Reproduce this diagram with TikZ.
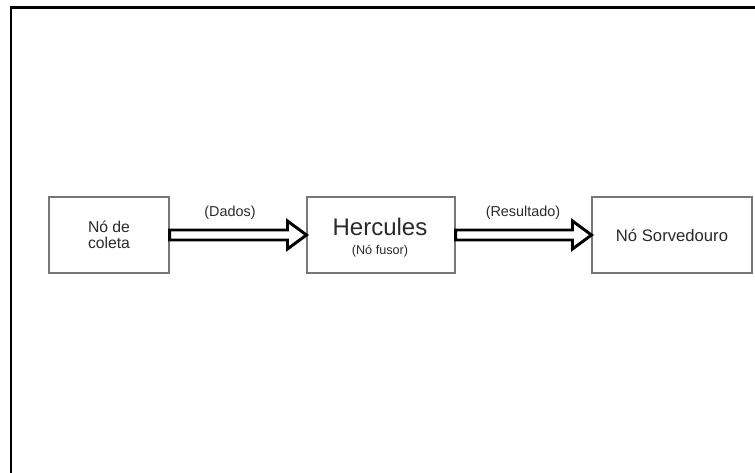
\documentclass[tikz,border=0pt]{standalone}
\usepackage{fontspec}
\setmainfont{Liberation Sans}
\usetikzlibrary{calc}
\definecolor{txt}{HTML}{2A2A2A}
\definecolor{boxline}{HTML}{777777}
\tikzset{
  blk/.style={draw=boxline, line width=0.8pt, fill=white, text=txt, align=center, inner sep=0pt},
  lbl/.style={text=txt, font=\fontsize{10.8}{12}\selectfont, inner sep=0pt},
  fat/.style={draw=black, line width=2.2pt, fill=white, line join=miter},
  frame/.style={draw=black, line width=1.6pt}
}
\begin{document}
\begin{tikzpicture}[x=0.75pt,y=-0.75pt]
\useasboundingbox (0,0) rectangle (755,473);
% frame (only top and left visible)
\coordinate (fbl) at (11,473);
\coordinate (ftl) at (11,7.5);
\coordinate (ftr) at (755,7.5);
\draw[frame] (fbl) -- (ftl) -- (ftr);
% boxes
\node[blk, minimum width=120*0.75pt, minimum height=76*0.75pt, font=\fontsize{11.8}{12}\selectfont] (a) at (109,235)
  {Nó de\\coleta};
\node[blk, minimum width=148*0.75pt, minimum height=76*0.75pt] (b) at (381,235) {};
\node[text=txt, inner sep=0pt, font=\fontsize{18}{20}\selectfont] (bt) at (380,227) {Hercules};
\node[text=txt, inner sep=0pt, font=\fontsize{9.5}{11}\selectfont] (bs) at (380,251) {(Nó fusor)};
\node[blk, minimum width=160*0.75pt, minimum height=76*0.75pt, font=\fontsize{12.5}{14}\selectfont] (c) at (672,235) {Nó Sorvedouro};
% arrows
\draw[fat] ($(a.east)+(0,-5)$) -- ($(b.west)+(-19,-5)$) -- ($(b.west)+(-19,-14)$) -- (b.west)
  -- ($(b.west)+(-19,14)$) -- ($(b.west)+(-19,5)$) -- ($(a.east)+(0,5)$) -- cycle;
\draw[fat] ($(b.east)+(0,-5)$) -- ($(c.west)+(-19,-5)$) -- ($(c.west)+(-19,-14)$) -- (c.west)
  -- ($(c.west)+(-19,14)$) -- ($(c.west)+(-19,5)$) -- ($(b.east)+(0,5)$) -- cycle;
% labels
\node[lbl] (l1) at (230,213) {(Dados)};
\node[lbl] (l2) at (523,213) {(Resultado)};
\end{tikzpicture}
\end{document}
